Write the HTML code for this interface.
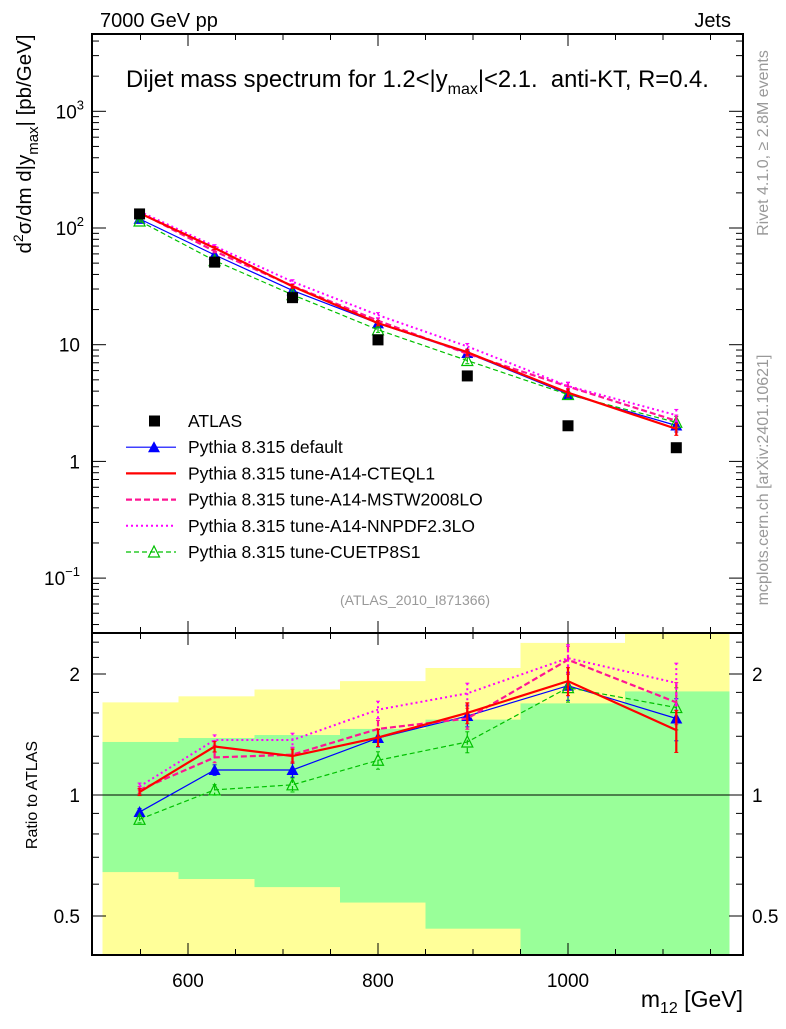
<!DOCTYPE html>
<html><head><meta charset="utf-8"><style>
body{margin:0;background:#fff}
svg{font-family:"Liberation Sans",sans-serif}
text{white-space:pre}
</style></head><body>
<svg id="c" width="786" height="1024" xmlns="http://www.w3.org/2000/svg"></svg>
<script>
const binEdges=[510,590,670,760,850,950,1060,1170];
const xCenters=[549,628,710,800,894,1000,1114];
const atlas=[132,51,25.3,11.0,5.4,2.02,1.31];
const yellowHi=[1.70,1.76,1.83,1.92,2.07,2.39,2.6];
const greenHi=[1.355,1.386,1.41,1.46,1.54,1.69,1.81];
const greenLo=[0.643,0.618,0.59,0.54,0.465,0.38,0.38];
const yellowLo=[0.3,0.3,0.3,0.3,0.3,0.38,0.38];
const rDefault=[0.907,1.154,1.154,1.386,1.572,1.87,1.55];
const rCTEQ=[1.017,1.32,1.25,1.39,1.60,1.92,1.45];
const rMSTW=[1.03,1.24,1.26,1.46,1.55,2.17,1.70];
const rNNPDF=[1.05,1.37,1.37,1.63,1.79,2.19,1.90];
const rCUETP=[0.87,1.03,1.06,1.22,1.355,1.85,1.65];
const relErr=[0.02,0.03,0.04,0.05,0.06,0.08,0.12];
const xTicks=[600,800,1000];
const mainTicks=[["10","3"],["10","2"],["10",""],["1",""],["10","−1"]];
const mainTickVals=[1000,100,10,1,0.1];
const ratioTicks=[2,1,0.5];

const L=92,R=743,T=34,MB=633,RB=955;
const NS="http://www.w3.org/2000/svg";
const svg=document.getElementById('c');
function X(v){return 188+(v-600)*0.95;}
function Y(v){return 228-(Math.log10(v)-2)*116.7;}
function YR(v){return 795-Math.log2(v)*121;}
function el(t,a,p){const e=document.createElementNS(NS,t);for(const k in a)e.setAttribute(k,a[k]);(p||svg).appendChild(e);return e;}
function txt(x,y,s,a,p){const e=el('text',Object.assign({x:x,y:y},a),p);e.textContent=s;return e;}

const bands=el('g',{});


for(let i=0;i<7;i++){
  const x0=X(binEdges[i]),x1=Math.min(X(binEdges[i+1]),R);
  const cl=v=>Math.max(MB,Math.min(RB,v));
  let y1=cl(YR(yellowHi[i])),y0=cl(YR(yellowLo[i]));
  const yb=el('rect',{x:x0,y:y1,width:x1-x0,height:y0-y1,fill:'#ffff99'},bands);
  
  
  y1=cl(YR(greenHi[i]));y0=cl(YR(greenLo[i]));
  const gb=el('rect',{x:x0,y:y1,width:x1-x0,height:y0-y1,fill:'#99ff99'},bands);
  
  
}
el('line',{x1:L,x2:R,y1:YR(1),y2:YR(1),stroke:'#000','stroke-width':1});

el('rect',{x:L,y:T,width:R-L,height:MB-T,fill:'none',stroke:'#000','stroke-width':2});
el('rect',{x:L,y:MB,width:R-L,height:RB-MB,fill:'none',stroke:'#000','stroke-width':2});

for(let v=550;v<=1150;v+=50){
  const x=X(v),big=v%200===0;const h=big?12:6;
  for(const[y0,d] of [[T,1],[MB,-1],[MB,1],[RB,-1]])el('line',{x1:x,x2:x,y1:y0,y2:y0+d*h,stroke:'#000','stroke-width':1});
}
xTicks.forEach(v=>{const t=txt(X(v),987,String(v),{'font-size':19,'text-anchor':'middle'});
});

for(let d=-2;d<=3;d++)for(let m=1;m<10;m++){
  const v=m*Math.pow(10,d),y=Y(v);if(y<T||y>MB)continue;const h=m===1?14:7;
  el('line',{x1:L,x2:L+h,y1:y,y2:y,stroke:'#000'});el('line',{x1:R,x2:R-h,y1:y,y2:y,stroke:'#000'});
}
mainTickVals.forEach((v,i)=>{
  const t=txt(80,Y(v)+7,mainTicks[i][0],{'font-size':19,'text-anchor':'end'});
  if(mainTicks[i][1]){t.textContent='';
    const a=el('tspan',{},t);a.textContent=mainTicks[i][0];
    const b=el('tspan',{dy:-9,'font-size':13},t);b.textContent=mainTicks[i][1];
    t.setAttribute('x',84-(mainTicks[i][1].length>1?4:0));}
  
});
[0.4,0.5,0.6,0.7,0.8,0.9,1,1.2,1.4,1.6,1.8,2,2.2,2.4].forEach(v=>{
  const y=YR(v);if(y<MB||y>RB)return;const h=(v===1||v===2||v===0.5)?14:7;
  el('line',{x1:L,x2:L+h,y1:y,y2:y,stroke:'#000'});el('line',{x1:R,x2:R-h,y1:y,y2:y,stroke:'#000'});
});
ratioTicks.forEach(v=>{
  const a=txt(80,YR(v)+7,String(v),{'font-size':19,'text-anchor':'end'});
  
  const b=txt(752,YR(v)+7,String(v),{'font-size':19});
  
});

const series=[
 {n:'pythia-default',r:rDefault,c:'#0000ff',w:1.2,da:'',m:'tri'},
 {n:'pythia-cuetp8s1',r:rCUETP,c:'#00c000',w:1.2,da:'5,3',m:'otri'},
 {n:'pythia-mstw2008lo',r:rMSTW,c:'#ff1493',w:2.2,da:'6,3',m:''},
 {n:'pythia-nnpdf23lo',r:rNNPDF,c:'#ff00ff',w:2,da:'2,3',m:''},
 {n:'pythia-cteql1',r:rCTEQ,c:'#ff0000',w:2.2,da:'',m:''}
];
function marker(g,m,x,y,c){
  if(m==='tri'){el('polygon',{points:`${x},${y-6} ${x-6},${y+5} ${x+6},${y+5}`,fill:c},g);}
  if(m==='otri'){el('polygon',{points:`${x},${y-6} ${x-5.5},${y+5} ${x+5.5},${y+5}`,fill:'none',stroke:c,'stroke-width':1.2},g);}
}
series.forEach(s=>{
  for(const panel of ['main','ratio']){
    const g=el('g',{});
    
    
    const ys=s.r.map((r,i)=>panel==='main'?Y(atlas[i]*r):YR(r));
    const pts=xCenters.map((v,i)=>X(v)+','+ys[i]).join(' ');
    el('polyline',{points:pts,fill:'none',stroke:s.c,'stroke-width':s.w,'stroke-dasharray':s.da},g);
    xCenters.forEach((v,i)=>{
      const x=X(v),e=relErr[i];
      const ya=panel==='main'?Y(atlas[i]*s.r[i]*(1+e)):YR(s.r[i]*(1+e));
      const yb=panel==='main'?Y(atlas[i]*s.r[i]*(1-e)):YR(s.r[i]*(1-e));
      el('line',{x1:x,x2:x,y1:ya,y2:yb,stroke:s.c,'stroke-width':s.w,'stroke-dasharray':s.da},g);
      el('line',{x1:x-2,x2:x+2,y1:ya,y2:ya,stroke:s.c},g);el('line',{x1:x-2,x2:x+2,y1:yb,y2:yb,stroke:s.c},g);
      marker(g,s.m,x,ys[i],s.c);
    });
  }
});
const ag=el('g',{});


xCenters.forEach((v,i)=>{el('rect',{x:X(v)-5.5,y:Y(atlas[i])-5.5,width:11,height:11,fill:'#000'},ag);});

const leg=[['ATLAS','#000','','sq',1],['Pythia 8.315 default','#0000ff','','tri',1.2],['Pythia 8.315 tune-A14-CTEQL1','#ff0000','','',2.2],
['Pythia 8.315 tune-A14-MSTW2008LO','#ff1493','6,3','',2.2],['Pythia 8.315 tune-A14-NNPDF2.3LO','#ff00ff','2,3','',2],['Pythia 8.315 tune-CUETP8S1','#00c000','5,3','otri',1.2]];
leg.forEach((l,i)=>{
  const y=421+i*26.2;const g=el('g',{});
  
  
  if(l[3]==='sq')el('rect',{x:149,y:y-5.5,width:11,height:11,fill:'#000'},g);
  else{el('line',{x1:126,x2:176,y1:y,y2:y,stroke:l[1],'stroke-width':l[4],'stroke-dasharray':l[2]},g);marker(g,l[3],154,y,l[1]);}
  txt(188,y+6,l[0],{'font-size':17.5},g);
});

const t1=txt(100,27,'7000 GeV pp',{'font-size':20});
const t2=txt(731,27,'Jets',{'font-size':20,'text-anchor':'end'});
const tt=el('text',{x:126,y:87,'font-size':23.8});
tt.innerHTML='Dijet mass spectrum for 1.2&lt;|y<tspan dy="7" font-size="16">max</tspan><tspan dy="-7">|&lt;2.1.  anti-KT, R=0.4.</tspan>';
const an=txt(415,605,'(ATLAS_2010_I871366)',{'font-size':14,fill:'#999','text-anchor':'middle'});
const rv=txt(0,0,'Rivet 4.1.0, ≥ 2.8M events',{'font-size':16,fill:'#999','text-anchor':'middle',transform:'translate(768,143) rotate(-90)'});

const mc=txt(0,0,'mcplots.cern.ch [arXiv:2401.10621]',{'font-size':16,fill:'#999','text-anchor':'middle',transform:'translate(768,480) rotate(-90)'});

const yt=el('text',{'font-size':20.5,'text-anchor':'middle',transform:'translate(31,144) rotate(-90)'});

yt.innerHTML='d<tspan dy="-8" font-size="14">2</tspan><tspan dy="8">σ/dm d|y</tspan><tspan dy="7" font-size="15">max</tspan><tspan dy="-7">| [pb/GeV]</tspan>';
const ry=txt(0,0,'Ratio to ATLAS',{'font-size':16,'text-anchor':'middle',transform:'translate(37,795) rotate(-90)'});

const xt=el('text',{x:743,y:1007,'font-size':23,'text-anchor':'end'});

xt.innerHTML='m<tspan dy="6" font-size="16">12</tspan><tspan dy="-6"> [GeV]</tspan>';
</script>
</body></html>
